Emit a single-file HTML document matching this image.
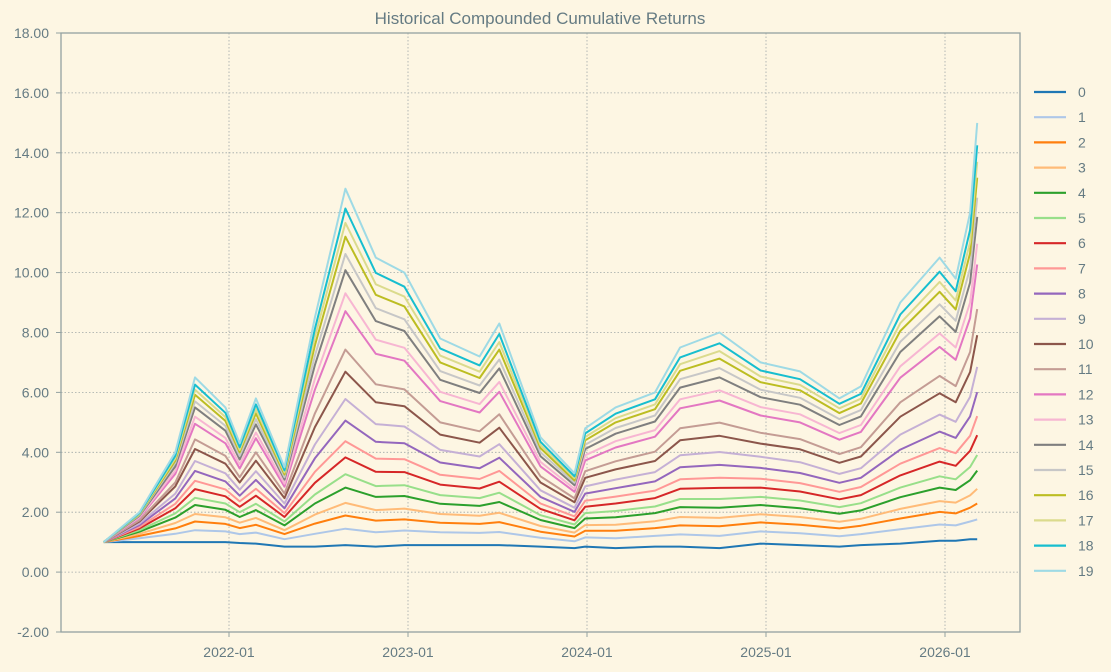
<!DOCTYPE html>
<html><head><meta charset="utf-8">
<style>
html,body{margin:0;padding:0;background:#fdf6e3;}
svg{display:block;font-family:"Liberation Sans","DejaVu Sans",sans-serif;}
</style></head>
<body>
<svg id="chart" width="1111" height="672" viewBox="0 0 1111 672" xmlns="http://www.w3.org/2000/svg">
<rect x="0" y="0" width="1111" height="672" fill="#fdf6e3"/>
<text x="540" y="24" text-anchor="middle" font-size="17" fill="#657b83">Historical Compounded Cumulative Returns</text>
<g id="grid"></g>
<g id="series"></g>
<rect x="61" y="33" width="959" height="599" fill="none" stroke="#93a1a1" stroke-width="1.3"/>
<g id="axes"></g>
<g id="legend"></g>
</svg>
<script>
const dates = [2021.30,2021.50,2021.70,2021.81,2021.98,2022.06,2022.15,2022.31,2022.48,2022.65,2022.82,2022.98,2023.18,2023.40,2023.51,2023.74,2023.93,2023.99,2024.16,2024.38,2024.52,2024.74,2024.97,2025.19,2025.41,2025.53,2025.75,2025.97,2026.06,2026.14,2026.18];
const yTicks = [-2,0,2,4,6,8,10,12,14,16,18];
const xTickLabels = ["2022-01","2023-01","2024-01","2025-01","2026-01"];
const xTickDates = [2022,2023,2024,2025,2026];
const s0 = [1.00,1.00,1.00,1.00,1.00,0.97,0.95,0.85,0.85,0.90,0.85,0.90,0.90,0.90,0.90,0.85,0.80,0.85,0.80,0.85,0.85,0.80,0.95,0.90,0.85,0.90,0.95,1.05,1.05,1.10,1.10];
const s1 = [1.00,1.13,1.28,1.40,1.36,1.27,1.32,1.10,1.28,1.45,1.33,1.39,1.33,1.31,1.34,1.15,1.03,1.16,1.13,1.21,1.26,1.21,1.36,1.30,1.20,1.27,1.43,1.59,1.56,1.69,1.76];
const s2 = [1.00,1.21,1.46,1.69,1.61,1.47,1.58,1.27,1.62,1.89,1.72,1.76,1.65,1.61,1.67,1.35,1.19,1.38,1.38,1.47,1.56,1.53,1.66,1.58,1.46,1.55,1.79,2.01,1.96,2.15,2.29];
const s3 = [1.00,1.28,1.64,1.94,1.83,1.65,1.81,1.40,1.92,2.31,2.07,2.12,1.94,1.88,1.98,1.54,1.32,1.57,1.58,1.70,1.84,1.81,1.93,1.84,1.68,1.78,2.11,2.37,2.32,2.56,2.78];
const s4 = [1.00,1.35,1.82,2.24,2.08,1.84,2.07,1.56,2.29,2.82,2.51,2.54,2.28,2.21,2.34,1.74,1.47,1.79,1.83,1.97,2.17,2.15,2.24,2.13,1.95,2.06,2.50,2.82,2.74,3.07,3.39];
const s5 = [1.00,1.40,1.96,2.48,2.29,2.00,2.28,1.69,2.59,3.27,2.87,2.90,2.57,2.47,2.65,1.90,1.59,1.97,2.04,2.19,2.44,2.44,2.51,2.39,2.17,2.30,2.82,3.20,3.10,3.51,3.91];
const s6 = [1.00,1.46,2.13,2.77,2.53,2.18,2.55,1.84,2.98,3.83,3.35,3.34,2.92,2.79,3.02,2.11,1.73,2.18,2.29,2.47,2.78,2.81,2.82,2.69,2.43,2.57,3.23,3.69,3.55,4.05,4.57];
const s7 = [1.00,1.51,2.28,3.05,2.76,2.36,2.78,1.97,3.35,4.37,3.79,3.77,3.25,3.11,3.38,2.29,1.86,2.38,2.52,2.72,3.10,3.15,3.12,2.97,2.68,2.84,3.62,4.14,3.97,4.55,5.21];
const s8 = [1.00,1.57,2.46,3.38,3.03,2.55,3.08,2.13,3.80,5.06,4.35,4.30,3.66,3.47,3.82,2.51,2.01,2.62,2.80,3.03,3.50,3.58,3.48,3.31,2.98,3.15,4.09,4.69,4.48,5.20,6.01];
const s9 = [1.00,1.62,2.62,3.71,3.30,2.75,3.37,2.29,4.26,5.78,4.94,4.86,4.08,3.86,4.27,2.73,2.15,2.86,3.09,3.34,3.90,4.01,3.85,3.67,3.28,3.47,4.59,5.26,5.02,5.85,6.85];
const s10 = [1.00,1.69,2.86,4.11,3.62,2.99,3.72,2.47,4.84,6.69,5.67,5.54,4.59,4.32,4.82,2.99,2.33,3.15,3.43,3.71,4.40,4.55,4.29,4.10,3.65,3.86,5.19,5.97,5.67,6.68,7.91];
const s11 = [1.00,1.73,2.99,4.43,3.88,3.17,4.00,2.62,5.30,7.43,6.27,6.10,5.00,4.70,5.27,3.20,2.46,3.37,3.70,4.02,4.80,4.99,4.65,4.44,3.94,4.17,5.67,6.55,6.21,7.35,8.78];
const s12 = [1.00,1.81,3.28,4.95,4.30,3.46,4.47,2.85,6.09,8.71,7.29,7.06,5.71,5.33,6.02,3.53,2.68,3.73,4.16,4.52,5.47,5.73,5.23,5.00,4.42,4.68,6.49,7.52,7.09,8.48,10.27];
const s13 = [1.00,1.84,3.39,5.19,4.48,3.60,4.66,2.95,6.45,9.31,7.76,7.49,6.02,5.61,6.35,3.68,2.78,3.90,4.37,4.74,5.77,6.07,5.51,5.27,4.64,4.91,6.87,7.97,7.50,9.00,10.96];
const s14 = [1.00,1.88,3.53,5.50,4.72,3.76,4.93,3.09,6.91,10.08,8.38,8.05,6.42,5.98,6.80,3.87,2.90,4.11,4.62,5.03,6.16,6.50,5.84,5.59,4.91,5.20,7.35,8.54,8.02,9.67,11.86];
const s15 = [1.00,1.91,3.65,5.70,4.88,3.88,5.11,3.17,7.23,10.62,8.81,8.44,6.71,6.23,7.10,4.00,2.98,4.25,4.81,5.23,6.44,6.81,6.09,5.82,5.11,5.41,7.69,8.94,8.39,10.15,12.50];
const s16 = [1.00,1.93,3.72,5.92,5.05,4.00,5.30,3.26,7.57,11.20,9.26,8.87,7.00,6.48,7.43,4.14,3.06,4.40,5.00,5.44,6.72,7.13,6.34,6.07,5.31,5.63,8.05,9.36,8.77,10.65,13.17];
const s17 = [1.00,1.95,3.80,6.09,5.18,4.08,5.44,3.33,7.85,11.66,9.61,9.20,7.23,6.69,7.68,4.24,3.14,4.51,5.14,5.60,6.94,7.38,6.53,6.25,5.47,5.79,8.31,9.69,9.07,11.02,13.70];
const s18 = [1.00,1.97,3.88,6.26,5.32,4.17,5.60,3.40,8.12,12.14,9.99,9.53,7.47,6.90,7.95,4.35,3.20,4.63,5.29,5.77,7.17,7.64,6.73,6.44,5.62,5.95,8.60,10.03,9.38,11.43,14.25];
const s19 = [1.00,2.00,4.00,6.50,5.50,4.30,5.80,3.50,8.50,12.80,10.50,10.00,7.80,7.20,8.30,4.50,3.30,4.80,5.50,6.00,7.50,8.00,7.00,6.70,5.80,6.20,9.00,10.50,9.80,12.00,15.00];
const seriesNames = ["0","1","2","3","4","5","6","7","8","9","10","11","12","13","14","15","16","17","18","19"];

const allSeries = [s0,s1,s2,s3,s4,s5,s6,s7,s8,s9,s10,s11,s12,s13,s14,s15,s16,s17,s18,s19];
const colors = ["#1f77b4","#aec7e8","#ff7f0e","#ffbb78","#2ca02c","#98df8a","#d62728","#ff9896","#9467bd","#c5b0d5","#8c564b","#c49c94","#e377c2","#f7b6d2","#7f7f7f","#c7c7c7","#bcbd22","#dbdb8d","#17becf","#9edae5"];
const NS = "http://www.w3.org/2000/svg";
const X0 = 61, X1 = 1020, Y0 = 33, Y1 = 632;
function xScale(d){ return 229 + (d - 2022) * 179; }
function yScale(v){ return Y1 - (v - (-2)) / 20 * (Y1 - Y0); }
function mk(tag, attrs){ const e = document.createElementNS(NS, tag); for (const k in attrs) e.setAttribute(k, attrs[k]); return e; }

const grid = document.getElementById('grid');
const axes = document.getElementById('axes');
yTicks.forEach(t => {
  const y = yScale(t);
  const gl = mk('line', {x1:X0, x2:X1, y1:y, y2:y, stroke:'#a0a8a8', 'stroke-width':0.8, 'stroke-dasharray':'1.5,2'});
  
  
  grid.appendChild(gl);
  const tk = mk('line', {x1:X0-5, x2:X0, y1:y, y2:y, stroke:'#93a1a1', 'stroke-width':1});
  
  
  axes.appendChild(tk);
  const lb = mk('text', {x:X0-12, y:y+5, 'text-anchor':'end', 'font-size':14, fill:'#657b83'});
  lb.textContent = t.toFixed(2);
  
  
  axes.appendChild(lb);
});
xTickDates.forEach((d, i) => {
  const x = xScale(d);
  const gl = mk('line', {x1:x, x2:x, y1:Y0, y2:Y1, stroke:'#a0a8a8', 'stroke-width':0.8, 'stroke-dasharray':'1.5,2'});
  
  
  grid.appendChild(gl);
  const tk = mk('line', {x1:x, x2:x, y1:Y1, y2:Y1+5, stroke:'#93a1a1', 'stroke-width':1});
  
  
  axes.appendChild(tk);
  const lb = mk('text', {x:x, y:657, 'text-anchor':'middle', 'font-size':14, fill:'#657b83'});
  lb.textContent = xTickLabels[i];
  
  
  axes.appendChild(lb);
});

const sg = document.getElementById('series');
allSeries.forEach((vals, k) => {
  const pts = vals.map((v, i) => xScale(dates[i]).toFixed(1) + ',' + yScale(v).toFixed(1)).join(' ');
  const pl = mk('polyline', {points:pts, fill:'none', stroke:colors[k], 'stroke-width':2, 'stroke-linejoin':'round'});
  
  
  sg.appendChild(pl);
});

const lg = document.getElementById('legend');
seriesNames.forEach((n, k) => {
  const y = 92 + k * 25.2;
  const g = mk('g', {});
  
  
  g.appendChild(mk('line', {x1:1034, x2:1066, y1:y, y2:y, stroke:colors[k], 'stroke-width':2.2}));
  const t = mk('text', {x:1078, y:y+5, 'font-size':14, fill:'#657b83'});
  t.textContent = n;
  g.appendChild(t);
  lg.appendChild(g);
});
</script>
</body></html>
